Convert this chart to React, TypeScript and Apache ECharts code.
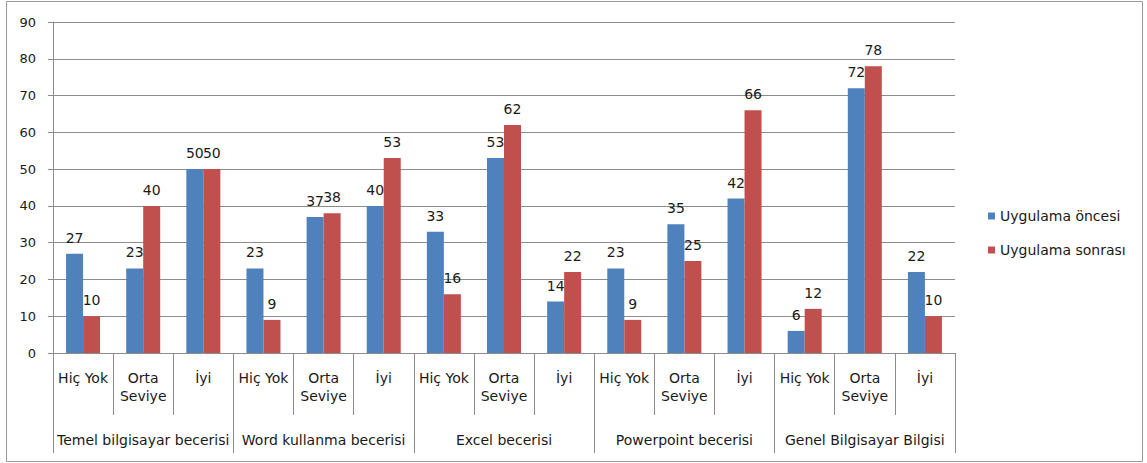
import React, { useEffect, useRef } from "react";
import * as echarts from "echarts";

const subCategories = [
  "Hiç Yok", "Orta\nSeviye", "İyi",
  "Hiç Yok", "Orta\nSeviye", "İyi",
  "Hiç Yok", "Orta\nSeviye", "İyi",
  "Hiç Yok", "Orta\nSeviye", "İyi",
  "Hiç Yok", "Orta\nSeviye", "İyi",
];
const groups = [
  "Temel bilgisayar becerisi",
  "Word kullanma becerisi",
  "Excel becerisi",
  "Powerpoint becerisi",
  "Genel Bilgisayar Bilgisi",
];
const before = [27, 23, 50, 23, 37, 40, 33, 53, 14, 23, 35, 42, 6, 72, 22];
const after = [10, 40, 50, 9, 38, 53, 16, 62, 22, 9, 25, 66, 12, 78, 10];
const seriesNames = ["Uygulama öncesi", "Uygulama sonrası"];

const FONT = "DejaVu Sans";
const TEXT = "#1a1a1a";
const LINE = "#8c8c8c";

export default function App() {
  const ref = useRef<HTMLDivElement>(null);
  useEffect(() => {
    document.body.style.margin = "0";
    const chart = echarts.init(ref.current!, null, { renderer: "svg" });
    const label = {
      show: true,
      position: "top",
      distance: 9,
      color: TEXT,
      fontFamily: FONT,
      fontSize: 14,
    };
    chart.setOption({
      animation: false,
      backgroundColor: "#ffffff",
      textStyle: { fontFamily: FONT },
      graphic: [
        {
          type: "rect",
          shape: { x: 6.5, y: 1.5, width: 1136, height: 460 },
          style: { fill: "none", stroke: "#9a9a9a", lineWidth: 1 },
          silent: true,
        },
      ],
      grid: { left: 53, right: 192, top: 22, bottom: 110 },
      legend: {
        orient: "vertical",
        left: 983,
        top: 204,
        itemWidth: 7,
        itemHeight: 7,
        itemGap: 20,
        icon: "rect",
        textStyle: { color: TEXT, fontFamily: FONT, fontSize: 14 },
        data: seriesNames,
      },
      xAxis: [
        {
          type: "category",
          data: subCategories,
          position: "bottom",
          axisLine: { show: true, lineStyle: { color: LINE } },
          axisTick: { show: true, interval: 0, length: 62, lineStyle: { color: LINE } },
          axisLabel: {
            interval: 0,
            margin: 16,
            color: TEXT,
            fontFamily: FONT,
            fontSize: 14,
            lineHeight: 18,
          },
          splitLine: { show: false },
        },
        {
          type: "category",
          data: groups,
          position: "bottom",
          axisLine: { show: false },
          axisTick: { show: true, interval: 0, length: 100, lineStyle: { color: LINE } },
          axisLabel: {
            interval: 0,
            margin: 80,
            color: TEXT,
            fontFamily: FONT,
            fontSize: 14,
          },
          splitLine: { show: false },
        },
      ],
      yAxis: {
        type: "value",
        min: 0,
        max: 90,
        interval: 10,
        axisLine: { show: true, lineStyle: { color: LINE } },
        axisTick: { show: true, length: 5, lineStyle: { color: LINE } },
        axisLabel: { margin: 17, color: TEXT, fontFamily: FONT, fontSize: 13 },
        splitLine: { show: true, lineStyle: { color: LINE, width: 1 } },
      },
      series: [
        {
          name: seriesNames[0],
          type: "bar",
          xAxisIndex: 0,
          data: before,
          barWidth: 17,
          barGap: "0%",
          itemStyle: { color: "#4F81BD" },
          label,
        },
        {
          name: seriesNames[1],
          type: "bar",
          xAxisIndex: 0,
          data: after,
          barWidth: 17,
          barGap: "0%",
          itemStyle: { color: "#C0504D" },
          label,
        },
      ],
    });
    return () => chart.dispose();
  }, []);
  return <div ref={ref} style={{ width: 1147, height: 463 }} />;
}
